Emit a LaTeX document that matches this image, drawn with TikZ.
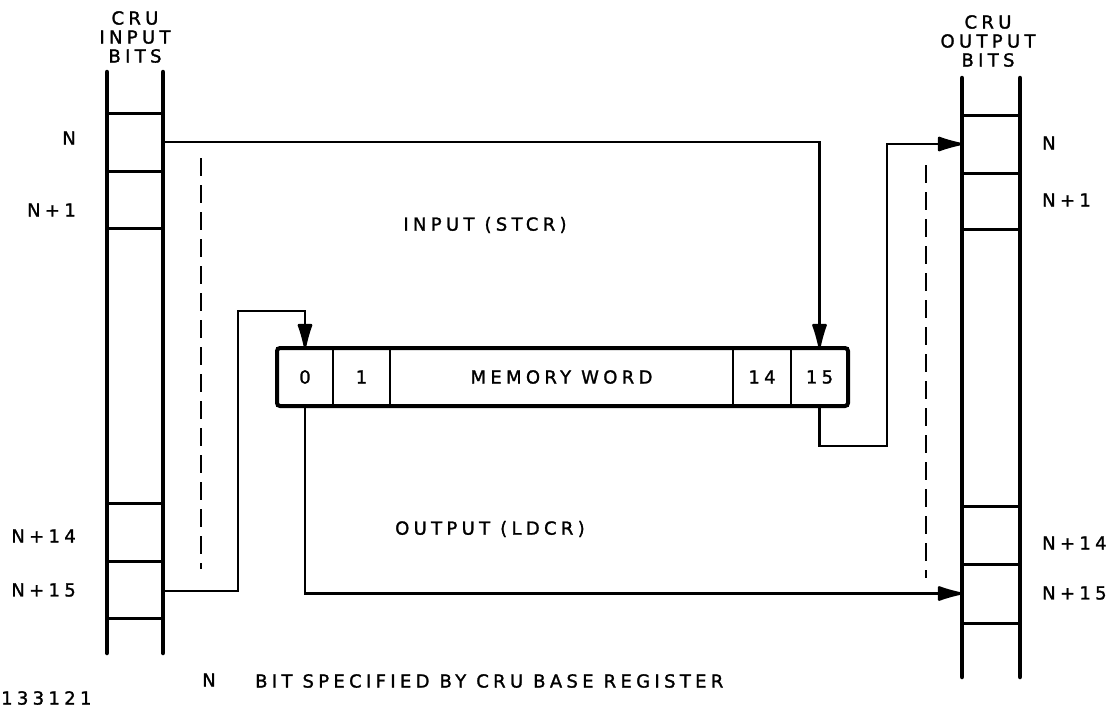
\documentclass[tikz,border=0pt]{standalone}
\usepackage{fontspec}
\setmainfont{DejaVu Sans}[LetterSpace=24, FakeBold=1.4]
\usetikzlibrary{arrows.meta, positioning, calc}

\newcommand{\lbfont}{\fontsize{18}{19}\selectfont}

\tikzset{
  rail/.style={line width=4.5pt, line cap=round},
  rung/.style={line width=3pt},
  cell/.style={rectangle, minimum width=56pt, minimum height=57pt,
    inner sep=0pt, outer sep=0pt},
  wordcell/.style={rectangle, draw, line width=2pt, minimum height=58pt,
    inner sep=0pt, outer sep=0pt, font=\lbfont},
  wordbox/.style={line width=4pt, rounded corners=3pt},
  conn/.style={line width=2.5pt},
  arrow/.style={conn, -{Latex[round, length=30pt, width=16pt]}},
  guide/.style={line width=2.5pt, dash pattern=on 18pt off 9pt},
  lbl/.style={font=\lbfont, inner sep=0pt}
}

\begin{document}
\begin{tikzpicture}[x=1pt, y=-1pt]
  \useasboundingbox (0,0) rectangle (1119,707);

  % CRU input bits
  \node[lbl, align=center] (inhead) at (135,37) {CRU\\INPUT\\BITS};
  \draw[rail] (107,72) -- (107,653);
  \draw[rail] (163,72) -- (163,653);
  \foreach \y in {113,171,228,503,561,618}
    \draw[rung] (107,\y) -- (163,\y);
  \node[cell] (inN) at (135,142) {};
  \node[cell] (inN15) at (135,591) {};
  \foreach \nm/\y/\txt in {a/138/N, b/210/N+1, c/536/N+14, d/590/N+15}
    \node[lbl, anchor=east] (inlbl\nm) at (76,\y) {\txt};

  % CRU output bits
  \node[lbl, align=center] (outhead) at (988,41) {CRU\\OUTPUT\\BITS};
  \draw[rail] (962,78) -- (962,677);
  \draw[rail] (1020,78) -- (1020,677);
  \foreach \y in {115,173,229,506,564,623}
    \draw[rung] (962,\y) -- (1020,\y);
  \node[cell, minimum width=58pt] (outN) at (991,144) {};
  \node[cell, minimum width=58pt] (outN15) at (991,593.5) {};
  \foreach \nm/\y/\txt in {a/143/N, b/200/N+1, c/543/N+14, d/593/N+15}
    \node[lbl, anchor=west] (outlbl\nm) at (1042,\y) {\txt};

  % memory word
  \node[wordcell, minimum width=56pt] (b0) at (305,377) {0};
  \node[wordcell, minimum width=57pt, right=0pt of b0] (b1) {1};
  \node[wordcell, minimum width=343pt, right=0pt of b1] (bw) {MEMORY WORD};
  \node[wordcell, minimum width=58pt, right=0pt of bw] (b14) {14};
  \node[wordcell, minimum width=57pt, right=0pt of b14] (b15) {15};
  \draw[wordbox] (b0.north west) rectangle (b15.south east);

  % transfers
  \coordinate (inbend) at (238,311);
  \coordinate (outbend) at (887,446);
  \draw[arrow] (inN.east) -| (b15.north);
  \draw[arrow] (inN15.east) -| (inbend) -| (b0.north);
  \draw[arrow] (b0.south) |- (outN15.west);
  \draw[arrow] (b15.south) |- (outbend) |- (outN.west);

  \draw[guide] (201,158) -- (201,569);
  \draw[guide] (926,165) -- (926,578);

  \node[lbl] (inname) at (485,225) {INPUT (STCR)};
  \node[lbl] (outname) at (490,529) {OUTPUT (LDCR)};

  \node[lbl] (notekey) at (209,680) {N};
  \node[lbl, anchor=west] (notetext) at (255,681)
    {BIT SPECIFIED BY CRU BASE REGISTER};
  \node[lbl, anchor=west] (figno) at (1,698) {133121};
\end{tikzpicture}
\end{document}
